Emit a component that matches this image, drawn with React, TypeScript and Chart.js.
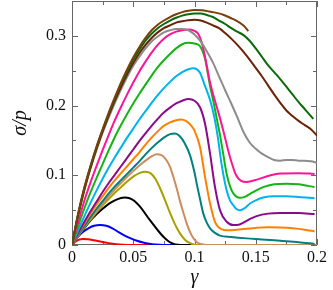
import React, { useEffect, useRef } from 'react';
import { Chart, registerables } from 'chart.js';

Chart.register(...registerables);

// ---- axis ticks ----
const X_TICK_VALUES = [0, 0.025, 0.05, 0.075, 0.1, 0.125, 0.15, 0.175, 0.2];
const X_MAJOR_LABELS = ['0', '0.05', '0.1', '0.15', '0.2'];
const Y_TICK_VALUES = [0, 0.05, 0.1, 0.15, 0.2, 0.25, 0.3, 0.35];
const Y_MAJOR_LABELS = ['0', '0.1', '0.2', '0.3'];

// ---- series (gamma = strain, sigma = sigma/p) ----
const RED_G = [0, 0.003, 0.006, 0.009, 0.013, 0.018, 0.024, 0.03, 0.036, 0.042, 0.05, 0.2];
const RED_S = [0, 0.005, 0.0078, 0.0086, 0.0082, 0.0067, 0.0047, 0.0027, 0.0012, 0.0004, 0, 0];

const BLUE_G = [0, 0.003, 0.006, 0.01, 0.014, 0.018, 0.023, 0.028, 0.033, 0.038, 0.043, 0.048, 0.053, 0.058, 0.063, 0.068, 0.075, 0.2];
const BLUE_S = [0, 0.008, 0.014, 0.02, 0.0245, 0.0275, 0.0286, 0.0275, 0.024, 0.0185, 0.0135, 0.0095, 0.006, 0.0035, 0.0017, 0.0006, 0, 0];

const BLACK_G = [0, 0.005, 0.01, 0.015, 0.02, 0.025, 0.03, 0.035, 0.04, 0.043, 0.047, 0.051, 0.055, 0.059, 0.063, 0.067, 0.071, 0.075, 0.079, 0.083, 0.087, 0.09, 0.2];
const BLACK_S = [0, 0.013, 0.024, 0.035, 0.044, 0.052, 0.059, 0.064, 0.0675, 0.068, 0.067, 0.063, 0.056, 0.047, 0.037, 0.028, 0.019, 0.011, 0.005, 0.0015, 0.0003, 0, 0];

const OLIVE_G = [0, 0.005, 0.01, 0.015, 0.02, 0.025, 0.03, 0.035, 0.04, 0.045, 0.05, 0.055, 0.0596, 0.064, 0.068, 0.072, 0.076, 0.08, 0.084, 0.088, 0.092, 0.096, 0.1, 0.105, 0.2];
const OLIVE_S = [0, 0.013, 0.025, 0.036, 0.047, 0.057, 0.066, 0.075, 0.083, 0.091, 0.098, 0.103, 0.105, 0.103, 0.095, 0.081, 0.064, 0.046, 0.03, 0.017, 0.008, 0.003, 0.0005, 0, 0];

const PERU_G = [0, 0.005, 0.01, 0.015, 0.02, 0.025, 0.03, 0.035, 0.04, 0.045, 0.05, 0.055, 0.06, 0.065, 0.069, 0.073, 0.077, 0.08, 0.0827, 0.0855, 0.088, 0.091, 0.0936, 0.0965, 0.099, 0.102, 0.106, 0.11, 0.2];
const PERU_S = [0, 0.013, 0.026, 0.038, 0.049, 0.06, 0.07, 0.08, 0.089, 0.098, 0.106, 0.114, 0.121, 0.127, 0.13, 0.129, 0.122, 0.112, 0.098, 0.081, 0.064, 0.046, 0.031, 0.018, 0.01, 0.004, 0.001, 0, 0];

const TEAL_G = [0, 0.005, 0.01, 0.015, 0.02, 0.025, 0.03, 0.035, 0.04, 0.045, 0.05, 0.055, 0.06, 0.065, 0.07, 0.075, 0.08, 0.084, 0.088, 0.092, 0.0963, 0.1, 0.1018, 0.1045, 0.1072, 0.11, 0.1127, 0.117, 0.1208, 0.13, 0.1426, 0.155, 0.17, 0.185, 0.198];
const TEAL_S = [0, 0.014, 0.027, 0.04, 0.052, 0.063, 0.074, 0.084, 0.093, 0.102, 0.111, 0.12, 0.13, 0.139, 0.147, 0.154, 0.159, 0.16, 0.156, 0.146, 0.129, 0.104, 0.088, 0.066, 0.045, 0.032, 0.024, 0.017, 0.0135, 0.0115, 0.0095, 0.008, 0.006, 0.004, 0.0015];

const ORANGE_G = [0, 0.005, 0.01, 0.015, 0.02, 0.025, 0.03, 0.035, 0.04, 0.045, 0.05, 0.055, 0.06, 0.065, 0.07, 0.075, 0.08, 0.085, 0.089, 0.093, 0.097, 0.1, 0.1045, 0.1086, 0.1127, 0.1167, 0.12, 0.124, 0.13, 0.14, 0.15, 0.16, 0.17, 0.18, 0.19, 0.198];
const ORANGE_S = [0, 0.016, 0.031, 0.045, 0.058, 0.07, 0.082, 0.093, 0.103, 0.113, 0.123, 0.133, 0.144, 0.154, 0.163, 0.171, 0.176, 0.179, 0.18, 0.178, 0.172, 0.164, 0.1405, 0.0976, 0.0595, 0.0333, 0.025, 0.0215, 0.021, 0.023, 0.0245, 0.0253, 0.025, 0.024, 0.022, 0.0195];

const PURPLE_G = [0, 0.005, 0.01, 0.015, 0.02, 0.025, 0.03, 0.035, 0.04, 0.045, 0.05, 0.055, 0.06, 0.065, 0.07, 0.075, 0.08, 0.085, 0.09, 0.095, 0.1, 0.1045, 0.1086, 0.1127, 0.1167, 0.1208, 0.1263, 0.1317, 0.136, 0.14, 0.145, 0.1507, 0.16, 0.17, 0.185, 0.198];
const PURPLE_S = [0, 0.017, 0.033, 0.048, 0.062, 0.076, 0.089, 0.101, 0.113, 0.125, 0.137, 0.149, 0.16, 0.171, 0.181, 0.19, 0.197, 0.203, 0.207, 0.2095, 0.207, 0.1976, 0.174, 0.131, 0.0833, 0.05, 0.0333, 0.0286, 0.029, 0.032, 0.037, 0.0414, 0.045, 0.046, 0.046, 0.0443];

const CYAN_G = [0, 0.005, 0.01, 0.015, 0.02, 0.025, 0.03, 0.035, 0.04, 0.045, 0.05, 0.055, 0.06, 0.065, 0.07, 0.075, 0.08, 0.085, 0.09, 0.095, 0.099, 0.102, 0.1045, 0.1086, 0.1127, 0.116, 0.119, 0.122, 0.126, 0.129, 0.1317, 0.134, 0.137, 0.141, 0.1453, 0.15, 0.156, 0.165, 0.175, 0.185, 0.198];
const CYAN_S = [0, 0.021, 0.041, 0.06, 0.078, 0.095, 0.111, 0.126, 0.14, 0.154, 0.167, 0.18, 0.192, 0.204, 0.215, 0.225, 0.234, 0.242, 0.248, 0.252, 0.2535, 0.252, 0.247, 0.228, 0.208, 0.185, 0.155, 0.117, 0.08, 0.064, 0.057, 0.052, 0.05, 0.053, 0.0595, 0.064, 0.068, 0.07, 0.07, 0.069, 0.067];

const GREEN_G = [0, 0.005, 0.01, 0.015, 0.02, 0.025, 0.03, 0.035, 0.04, 0.045, 0.05, 0.055, 0.06, 0.065, 0.07, 0.075, 0.08, 0.085, 0.09, 0.095, 0.1, 0.1045, 0.1086, 0.1127, 0.1153, 0.118, 0.1208, 0.1235, 0.126, 0.129, 0.1317, 0.137, 0.141, 0.145, 0.15, 0.156, 0.165, 0.175, 0.185, 0.198];
const GREEN_S = [0, 0.027, 0.052, 0.075, 0.096, 0.116, 0.136, 0.155, 0.172, 0.188, 0.203, 0.217, 0.23, 0.243, 0.255, 0.265, 0.274, 0.282, 0.288, 0.29, 0.289, 0.285, 0.267, 0.228, 0.207, 0.183, 0.158, 0.13, 0.104, 0.084, 0.074, 0.0676, 0.069, 0.073, 0.078, 0.083, 0.087, 0.088, 0.087, 0.083];

const PINK_G = [0, 0.005, 0.01, 0.015, 0.02, 0.025, 0.03, 0.035, 0.04, 0.045, 0.05, 0.055, 0.06, 0.065, 0.07, 0.075, 0.08, 0.085, 0.09, 0.095, 0.1, 0.103, 0.106, 0.1086, 0.1127, 0.117, 0.12, 0.1235, 0.129, 0.134, 0.138, 0.1426, 0.151, 0.16, 0.17, 0.185, 0.198];
const PINK_S = [0, 0.033, 0.063, 0.089, 0.113, 0.136, 0.158, 0.179, 0.198, 0.216, 0.233, 0.249, 0.263, 0.276, 0.287, 0.296, 0.302, 0.306, 0.308, 0.309, 0.307, 0.303, 0.29, 0.27, 0.233, 0.205, 0.187, 0.164, 0.126, 0.1, 0.092, 0.0905, 0.0938, 0.099, 0.1024, 0.103, 0.102];

const GRAY_G = [0, 0.005, 0.01, 0.015, 0.02, 0.025, 0.03, 0.035, 0.04, 0.045, 0.05, 0.055, 0.06, 0.065, 0.07, 0.075, 0.08, 0.085, 0.09, 0.095, 0.1, 0.105, 0.11, 0.115, 0.12, 0.125, 0.13, 0.135, 0.14, 0.145, 0.15, 0.155, 0.16, 0.165, 0.17, 0.175, 0.18, 0.185, 0.19, 0.195, 0.2];
const GRAY_S = [0, 0.042, 0.078, 0.109, 0.136, 0.161, 0.183, 0.204, 0.223, 0.241, 0.257, 0.27, 0.282, 0.292, 0.299, 0.305, 0.308, 0.31, 0.31, 0.308, 0.302, 0.292, 0.278, 0.262, 0.242, 0.222, 0.203, 0.183, 0.162, 0.147, 0.138, 0.131, 0.126, 0.122, 0.121, 0.122, 0.122, 0.121, 0.121, 0.12, 0.118];

const DKBROWN_G = [0, 0.005, 0.01, 0.015, 0.02, 0.025, 0.03, 0.035, 0.04, 0.045, 0.05, 0.055, 0.06, 0.065, 0.07, 0.075, 0.08, 0.085, 0.09, 0.095, 0.1, 0.105, 0.11, 0.115, 0.12, 0.125, 0.13, 0.135, 0.14, 0.145, 0.15, 0.155, 0.16, 0.165, 0.17, 0.175, 0.18, 0.185, 0.19, 0.195, 0.2];
const DKBROWN_S = [0, 0.043, 0.079, 0.11, 0.138, 0.163, 0.186, 0.207, 0.227, 0.245, 0.261, 0.275, 0.287, 0.297, 0.305, 0.311, 0.315, 0.319, 0.321, 0.3225, 0.323, 0.322, 0.319, 0.315, 0.311, 0.304, 0.296, 0.287, 0.277, 0.266, 0.254, 0.242, 0.229, 0.216, 0.204, 0.193, 0.185, 0.178, 0.172, 0.166, 0.157];

const DKGREEN_G = [0, 0.005, 0.01, 0.015, 0.02, 0.025, 0.03, 0.035, 0.04, 0.045, 0.05, 0.055, 0.06, 0.065, 0.07, 0.075, 0.08, 0.085, 0.09, 0.095, 0.1, 0.105, 0.11, 0.115, 0.12, 0.125, 0.13, 0.135, 0.14, 0.145, 0.15, 0.155, 0.16, 0.165, 0.17, 0.175, 0.18, 0.185, 0.19, 0.197];
const DKGREEN_S = [0, 0.044, 0.081, 0.112, 0.14, 0.165, 0.188, 0.21, 0.231, 0.249, 0.266, 0.28, 0.293, 0.303, 0.311, 0.317, 0.322, 0.326, 0.329, 0.331, 0.332, 0.332, 0.33, 0.327, 0.322, 0.317, 0.311, 0.306, 0.301, 0.293, 0.282, 0.27, 0.258, 0.248, 0.238, 0.227, 0.216, 0.205, 0.195, 0.181];

const BROWN_G = [0, 0.005, 0.01, 0.015, 0.02, 0.025, 0.03, 0.035, 0.04, 0.045, 0.05, 0.055, 0.06, 0.065, 0.07, 0.075, 0.08, 0.085, 0.09, 0.095, 0.1, 0.106, 0.112, 0.118, 0.124, 0.129, 0.134, 0.14, 0.144];
const BROWN_S = [0, 0.045, 0.082, 0.113, 0.141, 0.166, 0.19, 0.212, 0.233, 0.252, 0.269, 0.284, 0.297, 0.308, 0.316, 0.322, 0.327, 0.331, 0.334, 0.336, 0.337, 0.3367, 0.335, 0.333, 0.33, 0.326, 0.322, 0.315, 0.307];

const SERIES = [
  { label: 'brown', color: '#7b3f0c', g: BROWN_G, s: BROWN_S },
  { label: 'dark green', color: '#0a6a0a', g: DKGREEN_G, s: DKGREEN_S },
  { label: 'dark brown', color: '#6a2208', g: DKBROWN_G, s: DKBROWN_S },
  { label: 'gray', color: '#8c8c8c', g: GRAY_G, s: GRAY_S },
  { label: 'pink', color: '#ff1493', g: PINK_G, s: PINK_S },
  { label: 'green', color: '#14b414', g: GREEN_G, s: GREEN_S },
  { label: 'cyan', color: '#00b2ee', g: CYAN_G, s: CYAN_S },
  { label: 'purple', color: '#8b0a8b', g: PURPLE_G, s: PURPLE_S },
  { label: 'orange', color: '#ff8000', g: ORANGE_G, s: ORANGE_S },
  { label: 'teal', color: '#008080', g: TEAL_G, s: TEAL_S },
  { label: 'peru', color: '#cd8c5c', g: PERU_G, s: PERU_S },
  { label: 'olive', color: '#a8a000', g: OLIVE_G, s: OLIVE_S },
  { label: 'black', color: '#000000', g: BLACK_G, s: BLACK_S },
  { label: 'blue', color: '#0000ff', g: BLUE_G, s: BLUE_S },
  { label: 'red', color: '#ff0000', g: RED_G, s: RED_S },
];

const FONT = '"Liberation Serif", "DejaVu Serif", serif';

const near = (a: number, b: number) => Math.abs(a - b) < 1e-6;

const framePlugin = {
  id: 'frameTicks',
  beforeDatasetsDraw(chart: any) {
    const { ctx, chartArea: a, scales } = chart;
    const xs = scales.x;
    const ys = scales.y;
    ctx.save();
    ctx.strokeStyle = '#666';
    ctx.lineWidth = 1;
    ctx.strokeRect(a.left + 0.5, a.top + 0.5, a.right - a.left - 1, a.bottom - a.top - 1);
    ctx.beginPath();
    X_TICK_VALUES.forEach((v) => {
      const major = X_MAJOR_LABELS.some((l) => near(parseFloat(l), v));
      const len = major ? 6 : 4;
      const px = Math.round(xs.getPixelForValue(v)) + 0.5;
      ctx.moveTo(px, a.bottom);
      ctx.lineTo(px, a.bottom - len);
      ctx.moveTo(px, a.top);
      ctx.lineTo(px, a.top + len);
    });
    Y_TICK_VALUES.forEach((v) => {
      const major = Y_MAJOR_LABELS.some((l) => near(parseFloat(l), v));
      const len = major ? 6 : 4;
      const py = Math.round(ys.getPixelForValue(v)) + 0.5;
      ctx.moveTo(a.left, py);
      ctx.lineTo(a.left + len, py);
      ctx.moveTo(a.right, py);
      ctx.lineTo(a.right - len, py);
    });
    ctx.stroke();
    ctx.restore();
  },
};

export default function App() {
  const ref = useRef<HTMLCanvasElement | null>(null);

  useEffect(() => {
    if (!ref.current) return;
    const chart = new Chart(ref.current, {
      type: 'line',
      data: {
        datasets: SERIES.map((sr) => ({
          label: sr.label,
          data: sr.g.map((g, i) => ({ x: g, y: sr.s[i] })),
          borderColor: sr.color,
          backgroundColor: sr.color,
          borderWidth: 2,
          pointRadius: 0,
          fill: false,
          cubicInterpolationMode: 'monotone' as const,
        })),
      },
      plugins: [framePlugin],
      options: {
        animation: false,
        responsive: false,
        devicePixelRatio: 1,
        events: [],
        layout: { padding: { left: 0, right: 16, top: 1, bottom: 0 } },
        plugins: { legend: { display: false }, tooltip: { enabled: false } },
        scales: {
          x: {
            type: 'linear',
            min: 0,
            max: 0.2,
            grid: { display: false, drawTicks: false },
            border: { display: false },
            afterFit: (s: any) => {
              s.height = 45;
              s.paddingLeft = 0;
              s.paddingRight = 0;
            },
            afterBuildTicks: (s: any) => { s.ticks = X_TICK_VALUES.map((v) => ({ value: v })); },
            ticks: {
              autoSkip: false,
              maxRotation: 0,
              padding: 3,
              color: '#111',
              font: { family: FONT, size: 16 },
              callback: (v: any) => {
                const l = X_MAJOR_LABELS.find((t) => near(parseFloat(t), Number(v)));
                return l ?? '';
              },
            },
            title: {
              display: true,
              text: 'γ',
              color: '#111',
              font: { family: FONT, size: 20, style: 'italic' },
              padding: { top: 0, bottom: 0 },
            },
          },
          y: {
            type: 'linear',
            min: 0,
            max: 0.35,
            grid: { display: false, drawTicks: false },
            border: { display: false },
            afterFit: (s: any) => {
              s.width = 72;
              s.paddingTop = 0;
              s.paddingBottom = 0;
            },
            afterBuildTicks: (s: any) => { s.ticks = Y_TICK_VALUES.map((v) => ({ value: v })); },
            ticks: {
              autoSkip: false,
              padding: 6,
              color: '#111',
              font: { family: FONT, size: 16 },
              callback: (v: any) => {
                const l = Y_MAJOR_LABELS.find((t) => near(parseFloat(t), Number(v)));
                return l ?? '';
              },
            },
            title: {
              display: true,
              text: 'σ/p',
              color: '#111',
              font: { family: FONT, size: 20, style: 'italic' },
              padding: { top: 9, bottom: 0 },
            },
          },
        },
      },
    });
    return () => chart.destroy();
  }, []);

  return (
    <div style={{ position: 'fixed', left: 0, top: 0, width: 333, height: 290, background: '#fff' }}>
      <canvas ref={ref} width={333} height={290} style={{ display: 'block' }} />
    </div>
  );
}
